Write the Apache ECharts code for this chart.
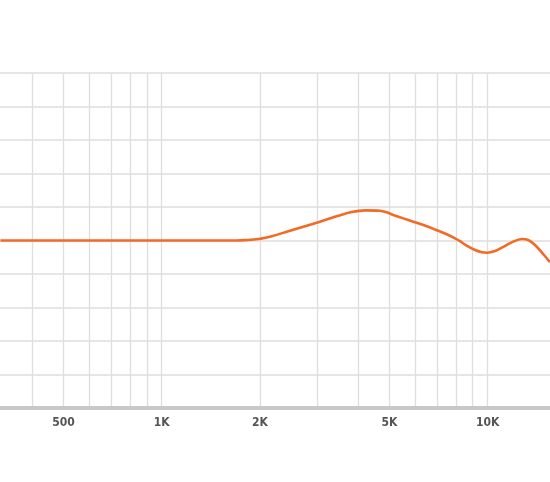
<!DOCTYPE html>
<html>
<head>
<meta charset="utf-8">
<script src="https://cdn.jsdelivr.net/npm/echarts@6/dist/echarts.min.js"></script>
<style>
  html, body { margin: 0; padding: 0; background: #fff; }
  #chart { width: 550px; height: 482px; }
</style>
</head>
<body>
<div id="chart"></div>
<script>
// ── Data ────────────────────────────────────────────────────────────────
const freqs = [320, 600, 1000, 1400, 1700, 1800, 1980, 2175, 2390, 2625, 2885, 3170,
  3485, 3830, 4205, 4675, 4900, 5135, 5510, 5915, 6505, 6900, 7400, 7945, 8345, 8705,
  9150, 9610, 9960, 10535, 11050, 11860, 12720, 13330, 13980, 14830, 15540];
const levels = [5.0, 5.0, 5.0, 5.0, 5.0, 5.01, 5.045, 5.13, 5.245, 5.365, 5.485, 5.61,
  5.74, 5.85, 5.90, 5.89, 5.84, 5.76, 5.66, 5.56, 5.424, 5.328, 5.209, 5.066, 4.94, 4.821,
  4.716, 4.648, 4.636, 4.687, 4.785, 4.945, 5.045, 5.015, 4.865, 4.59, 4.35];

const gridFreqs = [300, 400, 500, 600, 700, 800, 900, 1000, 2000, 3000, 4000, 5000,
  6000, 7000, 8000, 9000, 10000, 20000];
const labelFreqs = [500, 1000, 2000, 5000, 10000];

const X_MIN = 319;
const X_MAX = 15540;

// ── Chart ───────────────────────────────────────────────────────────────
const chart = echarts.init(document.getElementById('chart'));

const fmtFreq = v => v >= 1000 ? (v / 1000) + 'K' : String(v);

chart.setOption({
  animation: false,
  grid: { left: 0, right: 0, top: 73, bottom: 74 },
  xAxis: {
    type: 'log',
    logBase: 10,
    min: X_MIN,
    max: X_MAX,
    axisLine: { show: true, lineStyle: { color: '#c8c8c8', width: 4 } },
    axisTick: { show: false, customValues: gridFreqs },
    axisLabel: {
      customValues: labelFreqs,
      formatter: fmtFreq,
      margin: 9,
      color: '#555',
      fontSize: 12,
      fontWeight: 'bold',
      fontFamily: "'Liberation Sans Narrow', 'DejaVu Sans Condensed', sans-serif",
    },
    splitLine: { show: true, lineStyle: { color: '#dedede', width: 1.3 } },
    minorSplitLine: { show: false },
  },
  yAxis: {
    type: 'value',
    min: 0,
    max: 10,
    interval: 1,
    axisLine: { show: false },
    axisTick: { show: false },
    axisLabel: { show: false },
    splitLine: { show: true, lineStyle: { color: '#dedede', width: 1.5 } },
  },
  series: [{
    type: 'line',
    data: freqs.map((f, i) => [f, levels[i]]),
    smooth: 0.35,
    symbol: 'none',
    clip: true,
    lineStyle: { color: '#f26a24', width: 2.6 },
  }],
});
</script>
</body>
</html>
